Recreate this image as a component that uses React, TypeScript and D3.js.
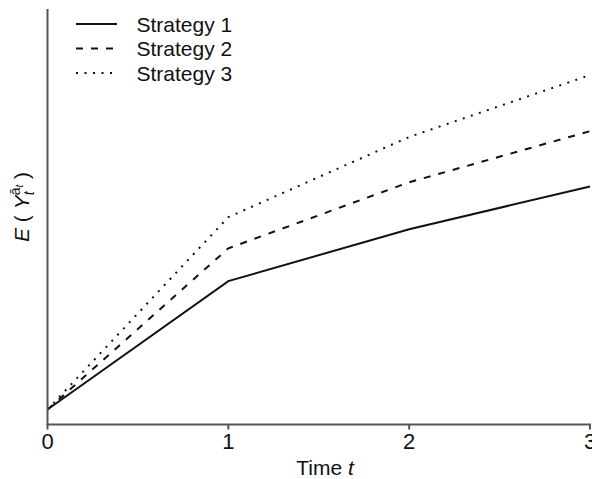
import React from "react";
import * as d3 from "d3";

// Expected outcome under each treatment strategy over time (arbitrary units)
const times = [0, 1, 2, 3];
const strategy1 = [3.6, 34.5, 47.0, 57.3];
const strategy2 = [3.6, 42.4, 58.3, 70.6];
const strategy3 = [3.6, 49.9, 69.2, 84.1];
const seriesNames = ["Strategy 1", "Strategy 2", "Strategy 3"];
const xTickValues = [0, 1, 2, 3];

const W = 592;
const H = 479;
const FONT = "'Liberation Sans', Arial, Helvetica, sans-serif";

const dashStyles = [undefined, "7,8", "2,6.5"];

export default function App() {
  const x = d3.scaleLinear().domain([0, 3]).range([47.5, 590]);
  const y = d3.scaleLinear().domain([0, 100]).range([424.5, 9]);

  const line = d3
    .line<[number, number]>()
    .x((d) => x(d[0]))
    .y((d) => y(d[1]));

  const allSeries = [strategy1, strategy2, strategy3].map((vals) =>
    vals.map((v, i) => [times[i], v] as [number, number])
  );

  const axisColor = "#555";

  return (
    <svg
      width={W}
      height={H}
      style={{ position: "absolute", left: 0, top: 0, background: "#fff" }}
      fontFamily={FONT}
    >
      {/* data lines */}
      {allSeries.map((s, i) => (
        <path
          key={i}
          d={line(s) || ""}
          fill="none"
          stroke="#111"
          strokeWidth={2}
          strokeDasharray={dashStyles[i]}
          strokeLinejoin="miter"
        />
      ))}

      {/* y axis (no ticks) */}
      <line x1={x(0)} x2={x(0)} y1={y(100)} y2={y(0)} stroke={axisColor} strokeWidth={2} />

      {/* x axis */}
      <line x1={x(0) - 1} x2={x(3) + 1} y1={y(0)} y2={y(0)} stroke={axisColor} strokeWidth={2} />
      {xTickValues.map((t) => (
        <g key={t}>
          <line x1={x(t)} x2={x(t)} y1={y(0)} y2={y(0) + 5} stroke={axisColor} strokeWidth={2} />
          <text x={x(t)} y={449} fontSize={22} textAnchor="middle" fill="#111">
            {t}
          </text>
        </g>
      ))}

      {/* x axis title */}
      <text x={325} y={475} fontSize={21} textAnchor="middle" fill="#111">
        Time <tspan fontStyle="italic">t</tspan>
      </text>

      {/* y axis title */}
      <text
        transform="translate(29,207) rotate(-90)"
        fontSize={21}
        textAnchor="middle"
        fill="#111"
      >
        <tspan fontStyle="italic">E</tspan>
        <tspan> ( </tspan>
        <tspan fontStyle="italic">Y</tspan>
        <tspan fontSize={14} dy={-9}>ā</tspan>
        <tspan fontSize={10} fontStyle="italic" dy={3}>t</tspan>
        <tspan fontSize={14} fontStyle="italic" dx={-10.5} dy={11}>t</tspan>
        <tspan dx={6.5} dy={-5}> )</tspan>
      </text>

      {/* legend */}
      {seriesNames.map((name, i) => {
        const ly = 24 + i * 24.5;
        return (
          <g key={name}>
            <line
              x1={76}
              x2={117}
              y1={ly}
              y2={ly}
              stroke="#111"
              strokeWidth={2}
              strokeDasharray={dashStyles[i]}
            />
            <text x={136.5} y={ly + 7.5} fontSize={21} fill="#111">
              {name}
            </text>
          </g>
        );
      })}
    </svg>
  );
}
